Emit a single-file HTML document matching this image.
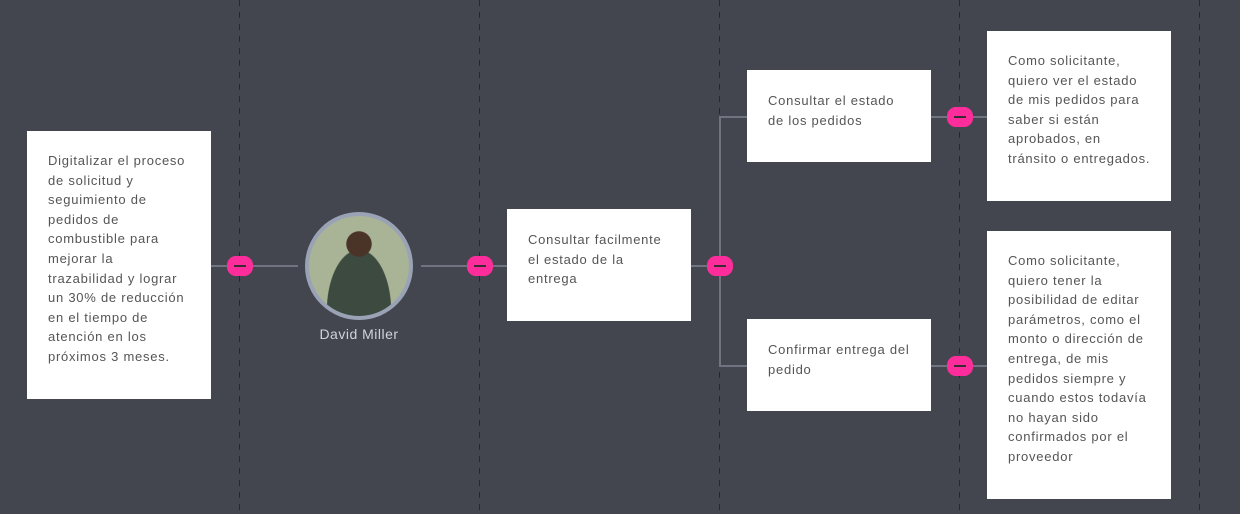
<!DOCTYPE html>
<html><head><style>
body{margin:0;width:1240px;height:514px;background:#43464f;position:relative;overflow:hidden;font-family:"Liberation Sans",sans-serif}
.v{position:absolute;top:0;height:514px;width:1px;background:repeating-linear-gradient(#25272d 0 6px,transparent 6px 12px)}
.h{position:absolute;height:2px;background:#6f7480}
.vl{position:absolute;width:2px;background:#6f7480}
.box{position:absolute;background:#fff;box-sizing:border-box;color:#555;font-size:13px;line-height:19.6px;letter-spacing:0.75px;white-space:nowrap}
.p{position:absolute;width:26px;height:20px;border-radius:9px;background:#ff2d9b;margin:-10px 0 0 -13px}
.p:after{content:"";position:absolute;left:7px;top:9px;width:12px;height:2px;background:#3a2a34}
</style></head><body>
<div class="v" style="left:239px"></div>
<div class="v" style="left:479px"></div>
<div class="v" style="left:719px"></div>
<div class="v" style="left:959px"></div>
<div class="v" style="left:1199px"></div>

<div class="h" style="left:211px;width:87px;top:265px"></div>
<div class="h" style="left:421px;width:86px;top:265px"></div>
<div class="h" style="left:691px;width:30px;top:265px"></div>
<div class="vl" style="left:719px;top:116px;height:251px"></div>
<div class="h" style="left:719px;width:28px;top:116px"></div>
<div class="h" style="left:719px;width:28px;top:365px"></div>
<div class="h" style="left:931px;width:56px;top:116px"></div>
<div class="h" style="left:931px;width:56px;top:365px"></div>

<div class="box" style="left:27px;top:131px;width:184px;height:268px;padding:20px 0 0 21px">Digitalizar el proceso<br>de solicitud y<br>seguimiento de<br>pedidos de<br>combustible para<br>mejorar la<br>trazabilidad y lograr<br>un 30% de reducción<br>en el tiempo de<br>atención en los<br>próximos 3 meses.</div>
<div class="box" style="left:507px;top:209px;width:184px;height:112px;padding:21px 0 0 21px">Consultar facilmente<br>el estado de la<br>entrega</div>
<div class="box" style="left:747px;top:70px;width:184px;height:92px;padding:21px 0 0 21px">Consultar el estado<br>de los pedidos</div>
<div class="box" style="left:747px;top:319px;width:184px;height:92px;padding:21px 0 0 21px">Confirmar entrega del<br>pedido</div>
<div class="box" style="left:987px;top:31px;width:184px;height:170px;padding:20px 0 0 21px">Como solicitante,<br>quiero ver el estado<br>de mis pedidos para<br>saber si están<br>aprobados, en<br>tránsito o entregados.</div>
<div class="box" style="left:987px;top:231px;width:184px;height:268px;padding:20px 0 0 21px">Como solicitante,<br>quiero tener la<br>posibilidad de editar<br>parámetros, como el<br>monto o dirección de<br>entrega, de mis<br>pedidos siempre y<br>cuando estos todavía<br>no hayan sido<br>confirmados por el<br>proveedor</div>

<div style="position:absolute;left:305px;top:212px;width:100px;height:100px;border-radius:50%;border:4px solid #9aa3b5;background:radial-gradient(circle at 50% 28%,#4a3428 0 14%,transparent 15%),radial-gradient(ellipse at 50% 95%,#3d4a40 0 45%,transparent 46%),#a9b396;overflow:hidden"></div>
<div style="position:absolute;left:299px;top:326px;width:120px;text-align:center;color:#d0d3da;font-size:14px;letter-spacing:0.5px">David Miller</div>

<div class="p" style="left:240px;top:266px"></div>
<div class="p" style="left:480px;top:266px"></div>
<div class="p" style="left:720px;top:266px"></div>
<div class="p" style="left:960px;top:117px"></div>
<div class="p" style="left:960px;top:366px"></div>
</body></html>
